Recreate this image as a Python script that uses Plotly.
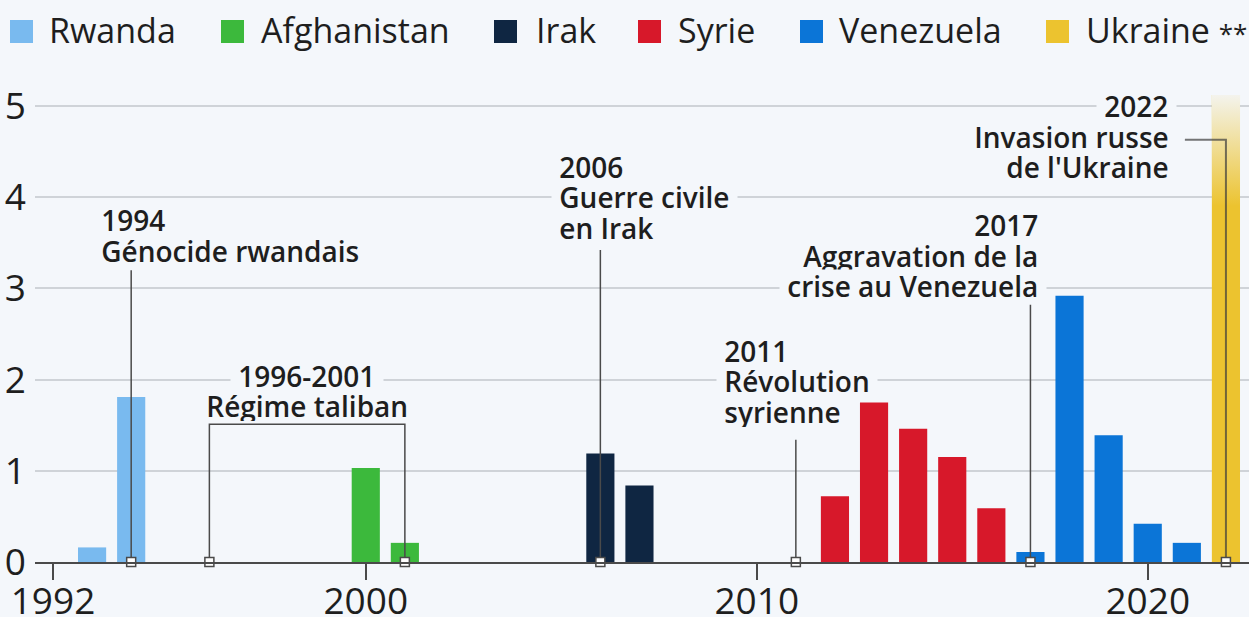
import plotly.graph_objects as go

# ---------------- data ----------------
rwanda_years = [1993, 1994]
rwanda_vals = [0.16, 1.81]
afgh_years = [2000, 2001]
afgh_vals = [1.03, 0.21]
irak_years = [2006, 2007]
irak_vals = [1.19, 0.84]
syrie_years = [2012, 2013, 2014, 2015, 2016]
syrie_vals = [0.72, 1.75, 1.46, 1.15, 0.59]
venez_years = [2017, 2018, 2019, 2020, 2021]
venez_vals = [0.11, 2.92, 1.39, 0.42, 0.21]
ukraine_years = [2022]
ukraine_vals = [5.12]

series_names = ["Rwanda", "Afghanistan", "Irak", "Syrie", "Venezuela", "Ukraine **"]
series_colors = ["#79baef", "#3cb93c", "#0f2642", "#d7182a", "#0b75d7", "#ecc32f"]
series_years = [rwanda_years, afgh_years, irak_years, syrie_years, venez_years, ukraine_years]
series_vals = [rwanda_vals, afgh_vals, irak_vals, syrie_vals, venez_vals, ukraine_vals]

x_tick_vals = [1992, 2000, 2010, 2020]
y_tick_vals = [0, 1, 2, 3, 4, 5]

# event markers (year on axis)
event_years = [1994, 1996, 2001, 2006, 2011, 2017, 2022]
event_texts = [
    ["1994", "Génocide rwandais"],
    ["1996-2001", "Régime taliban"],
    ["2006", "Guerre civile", "en Irak"],
    ["2011", "Révolution", "syrienne"],
    ["2017", "Aggravation de la", "crise au Venezuela"],
    ["2022", "Invasion russe", "de l'Ukraine"],
]

# ---------------- style / layout ----------------
BG = "#f4f7fb"
TXT = "#1e1e1e"
LINE = "#4a4a4a"
FONT = "Open Sans"
W, H = 1249, 617
L, R, T, B = 35, 0, 80, 55
X_RANGE = [1991.54, 2022.59]
Y_RANGE = [0, 5.285]
BAR_W = 0.72
PW, PH = W - L - R, H - T - B


def px2paper(px, py):
    return (px - L) / PW, (H - B - py) / PH


fig = go.Figure()

for name, col, xs, ys in zip(series_names, series_colors, series_years, series_vals):
    fig.add_trace(go.Bar(x=xs, y=ys, name=name, marker=dict(color=col, line=dict(width=0)),
                         width=BAR_W, showlegend=False, hoverinfo="x+y"))

# fade at top of the Ukraine bar
u_x, u_top = ukraine_years[0], ukraine_vals[0]
fade_lo = 3.9
fig.add_trace(go.Scatter(
    x=[u_x - BAR_W / 2, u_x + BAR_W / 2, u_x + BAR_W / 2, u_x - BAR_W / 2, u_x - BAR_W / 2],
    y=[fade_lo, fade_lo, u_top, u_top, fade_lo],
    mode="lines", line=dict(width=0), fill="toself",
    fillgradient=dict(type="vertical", start=fade_lo, stop=u_top,
                      colorscale=[[0, "rgba(244,247,251,0)"], [1, "rgba(244,247,251,0.93)"]]),
    showlegend=False, hoverinfo="skip"))

# connector lines
conn_x = [1994, 1994, None,
          1996, 1996, 2001, 2001, None,
          2006, 2006, None,
          2011, 2011, None,
          2017, 2017, None]
conn_y = [0, 3.2, None,
          0, 1.51, 1.51, 0, None,
          0, 3.42, None,
          0, 1.34, None,
          0, 2.82, None]
fig.add_trace(go.Scatter(x=conn_x, y=conn_y, mode="lines",
                         line=dict(color=LINE, width=1.5), showlegend=False, hoverinfo="skip"))
fig.add_trace(go.Scatter(x=[2022, 2022, 2020.95], y=[0, 4.63, 4.63], mode="lines",
                         line=dict(color="rgba(60,60,60,0.7)", width=2), showlegend=False, hoverinfo="skip"))

fig.add_trace(go.Scatter(x=event_years, y=[0] * len(event_years), mode="markers",
                         marker=dict(symbol="square", size=9, color="white",
                                     line=dict(color=LINE, width=1.5)),
                         cliponaxis=False, showlegend=False, hoverinfo="x"))

# annotations: one per line, each with a background box that hides the gridline behind it
ann_pos = [  # x, y(first line), xanchor
    (1993.20, 3.75, "left"),
    (1998.50, 2.05, "center"),
    (2004.92, 4.34, "left"),
    (2009.14, 2.32, "left"),
    (2017.24, 3.70, "right"),
    (2020.57, 5.00, "right"),
]
ANN_SIZE = 28
NBSP_W = 0.26 * ANN_SIZE
LH = 30.5
annotations = []
for lines, (ax, ay, anc) in zip(event_texts, ann_pos):
    xs = {"left": -NBSP_W, "right": NBSP_W, "center": 0}[anc]
    for i, t in enumerate(lines):
        annotations.append(dict(
            x=ax, y=ay, xref="x", yref="y", text="\u00a0" + t + "\u00a0", showarrow=False,
            xanchor=anc, yanchor="middle", xshift=xs, yshift=-LH * i,
            font=dict(family=FONT, size=ANN_SIZE, color=TXT, weight=600),
            bgcolor=BG, borderpad=0, height=31))

# manual legend
leg_sq_left = [10, 221, 494, 638, 800, 1046]
leg_txt_left = [49, 261, 536, 678, 839, 1086]
leg_labels = ["Rwanda", "Afghanistan", "Irak", "Syrie", "Venezuela",
              "Ukraine <span style='font-size:26px'>**</span>"]
shapes = []
for lab, col, sx, tx in zip(leg_labels, series_colors, leg_sq_left, leg_txt_left):
    x0, y0 = px2paper(sx, 43)
    x1, y1 = px2paper(sx + 23, 20)
    shapes.append(dict(type="rect", xref="paper", yref="paper", x0=x0, x1=x1, y0=y0, y1=y1,
                       fillcolor=col, line=dict(width=0)))
    tx_p, ty_p = px2paper(tx - 2, 30)
    annotations.append(dict(x=tx_p, y=ty_p, xref="paper", yref="paper", text=lab,
                            showarrow=False, xanchor="left", yanchor="middle",
                            font=dict(family=FONT, size=34, color=TXT)))

fig.update_layout(
    width=W, height=H,
    margin=dict(l=L, r=R, t=T, b=B, pad=0),
    paper_bgcolor=BG, plot_bgcolor=BG,
    barmode="overlay",
    showlegend=False,
    font=dict(family=FONT, color=TXT),
    annotations=annotations,
    shapes=shapes,
    xaxis=dict(range=X_RANGE, tickvals=x_tick_vals, ticktext=[str(v) for v in x_tick_vals],
               showgrid=False, zeroline=False, showline=True, linecolor=LINE, linewidth=1.5,
               ticks="outside", ticklen=16, tickwidth=1.5, tickcolor=LINE,
               tickfont=dict(family=FONT, size=37, color=TXT), automargin=False,
               ticklabelstandoff=-10, fixedrange=True),
    yaxis=dict(range=Y_RANGE, tickvals=y_tick_vals, showgrid=True, gridcolor="#cfd3d8",
               gridwidth=1.5, zeroline=False, showline=False, ticks="",
               tickfont=dict(family=FONT, size=37, color=TXT), automargin=False,
               ticklabelstandoff=8, fixedrange=True),
)

fig.write_html("out.html", config={"displayModeBar": False},
               post_script="document.body.style.margin='0';document.body.style.overflow='hidden';")
